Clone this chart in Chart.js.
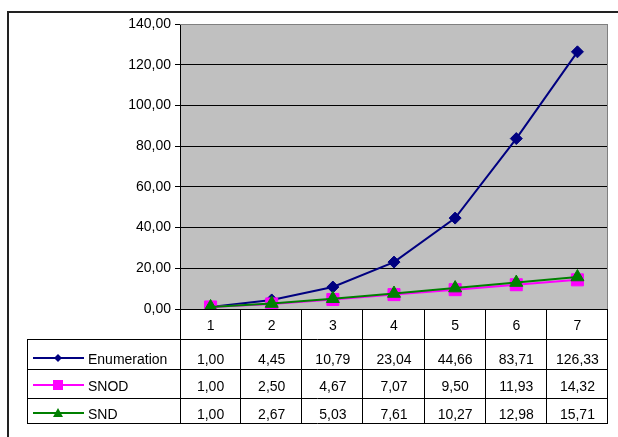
<!DOCTYPE html>
<html>
<head>
<meta charset="utf-8">
<script src="https://cdn.jsdelivr.net/npm/chart.js@4"></script>
<style>
  html, body { margin: 0; padding: 0; background: #fff; }
  #wrap { width: 618px; height: 437px; }
</style>
</head>
<body>
<div id="wrap"><canvas id="chart" width="618" height="437"></canvas></div>
<script>
var categories = ['1', '2', '3', '4', '5', '6', '7'];
var enumeration = [1.00, 4.45, 10.79, 23.04, 44.66, 83.71, 126.33];
var snod = [1.00, 2.50, 4.67, 7.07, 9.50, 11.93, 14.32];
var snd = [1.00, 2.67, 5.03, 7.61, 10.27, 12.98, 15.71];
var yMax = 140, yStep = 20;

var FONT = '14px "Liberation Sans", Arial, sans-serif';

function fmt(v) {
    return v.toFixed(2).replace('.', ',');
}

// marker shapes for the legend keys inside the data table
function marker(ctx, shape, x, y, r, color) {
    ctx.fillStyle = color;
    ctx.beginPath();
    if (shape === 'diamond') {
        ctx.moveTo(x, y - r); ctx.lineTo(x + r, y); ctx.lineTo(x, y + r); ctx.lineTo(x - r, y);
    } else if (shape === 'square') {
        ctx.rect(x - r, y - r, 2 * r, 2 * r);
    } else {
        ctx.moveTo(x, y - r); ctx.lineTo(x + r, y + r * 0.8); ctx.lineTo(x - r, y + r * 0.8);
    }
    ctx.closePath();
    ctx.fill();
}

var series = [
    { label: 'Enumeration', data: enumeration, color: '#000080', shape: 'diamond', r: 4 },
    { label: 'SNOD', data: snod, color: '#FF00FF', shape: 'square', r: 5 },
    { label: 'SND', data: snd, color: '#008000', shape: 'triangle', r: 5 }
];

var tablePlugin = {
    id: 'dataTable',
    beforeDraw: function(chart) {
        var ctx = chart.ctx, a = chart.chartArea;
        ctx.save();
        ctx.fillStyle = '#fff';
        ctx.fillRect(0, 0, chart.width, chart.height);
        ctx.fillStyle = '#C0C0C0';
        ctx.fillRect(a.left, a.top, a.right - a.left, a.bottom - a.top);
        // outer frame
        ctx.strokeStyle = '#222';
        ctx.lineWidth = 2;
        ctx.strokeRect(8, 12, 800, 800);
        ctx.restore();
    },
    beforeDatasetsDraw: function(chart) {
        var ctx = chart.ctx, a = chart.chartArea;
        ctx.save();
        ctx.strokeStyle = '#808080';
        ctx.lineWidth = 1;
        ctx.beginPath();
        ctx.moveTo(a.left, a.top + 0.5); ctx.lineTo(a.right - 0.5, a.top + 0.5);
        ctx.lineTo(a.right - 0.5, a.bottom);
        ctx.stroke();
        ctx.restore();
    },
    afterDraw: function(chart) {
        var ctx = chart.ctx, a = chart.chartArea;
        var x = chart.scales.x;
        var colW = (a.right - a.left) / categories.length;
        var tableLeft = 27;
        var rows = [339, 369, 398, 423];
        var textY = [360, 387, 415];
        ctx.save();
        ctx.lineWidth = 1;
        ctx.strokeStyle = '#000';
        ctx.beginPath();
        // horizontal lines
        rows.forEach(function(y) {
            ctx.moveTo(tableLeft, y + 0.5); ctx.lineTo(a.right, y + 0.5);
        });
        // vertical lines
        ctx.moveTo(tableLeft + 0.5, rows[0]); ctx.lineTo(tableLeft + 0.5, rows[3] + 1);
        ctx.moveTo(a.left + 0.5, a.bottom); ctx.lineTo(a.left + 0.5, rows[3] + 1);
        for (var i = 1; i <= categories.length; i++) {
            var bx = Math.round(a.left + i * colW) - 0.5;
            ctx.moveTo(bx, a.bottom); ctx.lineTo(bx, rows[3] + 1);
        }
        ctx.stroke();

        ctx.font = FONT;
        ctx.fillStyle = '#000';
        ctx.textAlign = 'center';
        ctx.textBaseline = 'middle';
        categories.forEach(function(c, i) {
            ctx.fillText(c, x.getPixelForValue(i), 326);
        });
        series.forEach(function(s, r) {
            var ty = textY[r];
            ctx.textAlign = 'center';
            ctx.fillStyle = '#000';
            s.data.forEach(function(v, i) {
                ctx.fillText(fmt(v), x.getPixelForValue(i), ty);
            });
            // legend key
            var ly = ty - 2;
            ctx.strokeStyle = s.color;
            ctx.lineWidth = 2;
            ctx.beginPath();
            ctx.moveTo(33, ly); ctx.lineTo(84, ly);
            ctx.stroke();
            marker(ctx, s.shape, 58, ly, s.r, s.color);
            ctx.fillStyle = '#000';
            ctx.textAlign = 'left';
            ctx.fillText(s.label, 88, ty);
        });
        ctx.restore();
    }
};

var myChart = new Chart(document.getElementById('chart'), {
    type: 'line',
    data: {
        labels: categories,
        datasets: [
            {
                label: 'Enumeration',
                data: enumeration,
                borderColor: '#000080',
                backgroundColor: '#000080',
                borderWidth: 2,
                pointStyle: 'rectRot',
                pointRadius: 6,
                pointBorderWidth: 1,
                order: 3
            },
            {
                label: 'SNOD',
                data: snod,
                borderColor: '#FF00FF',
                backgroundColor: '#FF00FF',
                borderWidth: 2,
                pointStyle: 'rect',
                pointRadius: 8.5,
                pointBorderWidth: 1,
                order: 2
            },
            {
                label: 'SND',
                data: snd,
                borderColor: '#008000',
                backgroundColor: '#008000',
                borderWidth: 2,
                pointStyle: 'triangle',
                pointRadius: 7.5,
                pointBorderWidth: 1,
                order: 1
            }
        ]
    },
    options: {
        responsive: false,
        animation: false,
        devicePixelRatio: 1,
        layout: { padding: { top: 24, right: 10, bottom: 128, left: 0 } },
        plugins: {
            legend: { display: false },
            tooltip: { enabled: false }
        },
        scales: {
            x: {
                display: false,
                offset: true
            },
            y: {
                min: 0,
                max: yMax,
                afterFit: function(scale) { scale.width = 180; },
                ticks: {
                    stepSize: yStep,
                    color: '#000',
                    padding: 4,
                    font: { family: '"Liberation Sans", Arial, sans-serif', size: 14 },
                    callback: function(v) { return fmt(v); }
                },
                grid: {
                    color: function(c) { return c.tick && c.tick.value === yMax ? '#808080' : '#000'; },
                    tickColor: '#000',
                    tickLength: 5,
                    lineWidth: 1
                },
                border: { color: '#000', width: 1 }
            }
        }
    },
    plugins: [tablePlugin]
});
</script>
</body>
</html>
